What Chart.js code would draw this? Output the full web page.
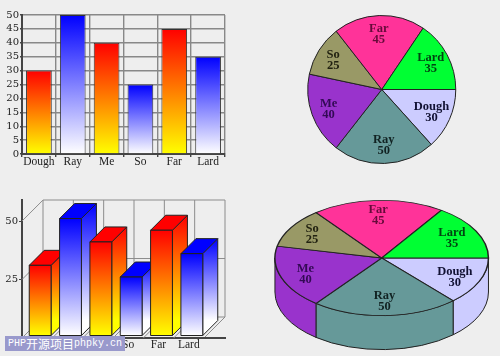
<!DOCTYPE html>
<html>
<head>
<meta charset="utf-8">
<script src="https://cdn.jsdelivr.net/npm/chart.js@4/dist/chart.umd.js"></script>
<style>
    html, body { margin: 0; padding: 0; background: #eeeeee; width: 500px; height: 356px; overflow: hidden; }
    canvas { position: absolute; }
    #mark {
        position: absolute; left: 5px; top: 336px; width: 120px; height: 15px;
        display: flex; align-items: center;
        background: #9999cc; color: #fff; font: 10px "Liberation Mono", monospace;
        padding-left: 3px; box-sizing: border-box; white-space: pre; overflow: hidden;
    }
    #mark span { font: 12px/15px "Noto Sans CJK SC", sans-serif; }
</style>
</head>
<body>
<canvas id="bars" width="250" height="178" style="left:0;top:0"></canvas>
<canvas id="pie" width="250" height="178" style="left:250px;top:0"></canvas>
<canvas id="bars3d" width="250" height="178" style="left:0;top:178px"></canvas>
<canvas id="pie3d" width="250" height="178" style="left:250px;top:178px"></canvas>
<div id="mark">PHP<span>开源项目</span>phpky.cn</div>
<script>
const categories = ['Dough', 'Ray', 'Me', 'So', 'Far', 'Lard'];
const values = [30, 50, 40, 25, 45, 35];
const sliceColors = ['#ccccff', '#669999', '#9933cc', '#999966', '#ff3399', '#00ff33'];
const labelColors = ['#111133', '#112222', '#330a55', '#222211', '#660a3a', '#004411'];
const barStops = [['#ff0000', '#ffff00'], ['#0000ff', '#ffffff']];

const SERIF = '"Liberation Serif", serif';
const TICK_SERIF = '"DejaVu Serif", serif';

Chart.defaults.animation = false;
Chart.defaults.responsive = false;
Chart.defaults.plugins.legend.display = false;
Chart.defaults.plugins.tooltip.enabled = false;

function barGradient(ctx, i, top, bottom) {
    const g = ctx.createLinearGradient(0, top, 0, bottom);
    const stops = barStops[i % 2];
    g.addColorStop(0, stops[0]);
    g.addColorStop(1, stops[1]);
    return g;
}

// flat bars
new Chart(document.getElementById('bars'), {
    type: 'bar',
    data: {
        labels: categories,
        datasets: [{
            data: values,
            backgroundColor: (c) => {
                const y = c.chart.scales.y;
                if (!c.chart.chartArea || !y || c.raw === undefined) return '#000';
                const top = y.getPixelForValue(c.raw), bottom = y.getPixelForValue(0);
                if (!isFinite(top) || !isFinite(bottom)) return '#000';
                return barGradient(c.chart.ctx, c.dataIndex, top, bottom);
            },
            borderColor: '#333',
            borderWidth: 1,
            barPercentage: 0.76,
            categoryPercentage: 1
        }]
    },
    options: {
        layout: { padding: { top: 15, right: 25 } },
        scales: {
            x: {
                afterFit: (s) => { s.height = 24; },
                grid: { color: '#888', lineWidth: 1.4, tickColor: '#444', tickLength: 3 },
                border: { color: '#444', width: 2 },
                ticks: { autoSkip: false, color: '#222', padding: -2, maxRotation: 0, font: { family: SERIF, size: 11.5 } }
            },
            y: {
                min: 0, max: 50,
                afterFit: (s) => { s.width = 22; },
                grid: { color: '#888', lineWidth: 1.4, tickColor: '#444', tickLength: 2 },
                border: { color: '#444', width: 2 },
                ticks: { autoSkip: false, stepSize: 5, color: '#222', padding: 1, font: { family: TICK_SERIF, size: 10 } }
            }
        }
    }
});

// pie labels, two lines per slice, placed along the slice's mid angle
const sliceLabels = {
    id: 'sliceLabels',
    afterDatasetsDraw(chart, args, opts) {
        const ctx = chart.ctx;
        const arcs = chart.getDatasetMeta(0).data;
        ctx.save();
        ctx.textAlign = 'center';
        ctx.textBaseline = 'middle';
        ctx.font = 'bold 12.5px ' + SERIF;
        arcs.forEach((arc, i) => {
            const mid = (arc.startAngle + arc.endAngle) / 2;
            const r = arc.outerRadius * opts.at;
            const x = arc.x + Math.cos(mid) * r * (opts.sx || 1) + opts.dx[i];
            const y = arc.y + Math.sin(mid) * r + opts.dy[i];
            ctx.fillStyle = labelColors[i];
            ctx.fillText(categories[i], x, y - 5.5);
            ctx.fillText(String(values[i]), x, y + 5.5);
        });
        ctx.restore();
    }
};

new Chart(document.getElementById('pie'), {
    type: 'pie',
    data: {
        labels: categories,
        datasets: [{ data: values, backgroundColor: sliceColors, borderColor: '#222', borderWidth: 1 }]
    },
    options: {
        rotation: 90,
        layout: { padding: { left: 57, right: 43.5, top: 15, bottom: 14 } },
        plugins: {
            sliceLabels: { at: 0.75, dx: [-1, 0, -1, -1.5, -1, 0], dy: [0, 0, 1, 0, 0, -0.5] }
        }
    },
    plugins: [sliceLabels]
});

// 3d bars
const DEPTH = 21;
const BAR_DX = 3, BAR_DY = 2.5, BAR_SIDE = 15;

const bars3d = {
    id: 'bars3d',
    beforeDatasetsDraw(chart) {
        const ctx = chart.ctx, y = chart.scales.y, x = chart.scales.x;
        const front = y.getPixelForValue(0);
        const top = y.top;
        const left = x.left, pitch = x.width / categories.length;
        ctx.save();
        ctx.strokeStyle = '#8c8c8c';
        ctx.lineWidth = 1;
        ctx.beginPath();
        for (let i = 0; i <= categories.length; i++) {
            const bx = left + pitch * i + DEPTH;
            ctx.moveTo(bx, top);
            ctx.lineTo(bx, front - DEPTH);
            // floor
            ctx.moveTo(bx, front - DEPTH);
            ctx.lineTo(bx - DEPTH, front);
        }
        [0, 25, 59].forEach((v) => {
            const vy = y.getPixelForValue(v);
            ctx.moveTo(left + DEPTH, vy - (v === 59 ? 0 : DEPTH));
            ctx.lineTo(x.right + DEPTH, vy - (v === 59 ? 0 : DEPTH));
        });
        [25, 50].forEach((v) => {
            const vy = y.getPixelForValue(v);
            ctx.moveTo(left, vy);
            ctx.lineTo(left + DEPTH, vy - DEPTH);
        });
        ctx.stroke();
        ctx.restore();
    },
    beforeDatasetDraw(chart) {
        const ctx = chart.ctx;
        chart.getDatasetMeta(0).data.forEach((bar, i) => {
            const w = bar.width;
            const l = bar.x - w / 2 + BAR_DX, r = l + w;
            const t = bar.y - BAR_DY, b = bar.base - BAR_DY;
            ctx.save();
            ctx.strokeStyle = '#222';
            ctx.lineWidth = 1;
            // side
            ctx.beginPath();
            ctx.moveTo(r, t);
            ctx.lineTo(r + BAR_SIDE, t - BAR_SIDE);
            ctx.lineTo(r + BAR_SIDE, b - BAR_SIDE);
            ctx.lineTo(r, b);
            ctx.closePath();
            ctx.fillStyle = barGradient(ctx, i, t - BAR_SIDE, b - BAR_SIDE);
            ctx.fill();
            ctx.stroke();
            // top
            ctx.beginPath();
            ctx.moveTo(l, t);
            ctx.lineTo(l + BAR_SIDE, t - BAR_SIDE);
            ctx.lineTo(r + BAR_SIDE, t - BAR_SIDE);
            ctx.lineTo(r, t);
            ctx.closePath();
            ctx.fillStyle = barStops[i % 2][0];
            ctx.fill();
            ctx.stroke();
            // front
            ctx.beginPath();
            ctx.rect(l, t, w, b - t);
            ctx.fillStyle = barGradient(ctx, i, t, b);
            ctx.fill();
            ctx.stroke();
            ctx.restore();
        });
        return false;
    },
    afterDraw(chart) {
        // the floor edge runs on past the last category
        const ctx = chart.ctx, x = chart.scales.x;
        const front = chart.scales.y.getPixelForValue(0);
        ctx.save();
        ctx.strokeStyle = '#444';
        ctx.lineWidth = 2;
        ctx.beginPath();
        ctx.moveTo(x.right, front);
        ctx.lineTo(x.right + DEPTH + 1, front);
        ctx.stroke();
        ctx.restore();
    }
};

new Chart(document.getElementById('bars3d'), {
    type: 'bar',
    data: {
        labels: categories,
        datasets: [{ data: values, backgroundColor: '#000', barPercentage: 0.72, categoryPercentage: 1 }]
    },
    options: {
        layout: { padding: { top: 22, right: 46 } },
        scales: {
            x: {
                afterFit: (s) => { s.height = 18; },
                grid: { drawOnChartArea: false, drawTicks: false },
                border: { color: '#444', width: 2 },
                ticks: { autoSkip: false, color: '#222', padding: 0, maxRotation: 0, font: { family: SERIF, size: 11.5 } }
            },
            y: {
                min: 0, max: 59,
                afterFit: (s) => { s.width = 22; },
                afterBuildTicks: (s) => { s.ticks = s.ticks.filter((t) => t.value === 25 || t.value === 50); },
                grid: { drawOnChartArea: false, color: '#444', tickLength: 3 },
                border: { color: '#444', width: 2 },
                ticks: { autoSkip: false, stepSize: 25, color: '#222', padding: 1, font: { family: TICK_SERIF, size: 10 } }
            }
        }
    },
    plugins: [bars3d]
});

// 3d pie: the round chart is stretched and the rim drawn under it
const PIE_STRETCH = 107.5 / 58;
const PIE_THICK = 34;

const pieRim = {
    id: 'pieRim',
    beforeDatasetsDraw(chart) {
        const ctx = chart.ctx;
        const arcs = chart.getDatasetMeta(0).data;
        const cx = arcs[0].x, cy = arcs[0].y, r = arcs[0].outerRadius;
        arcs.forEach((arc, i) => {
            const a0 = Math.max(arc.startAngle, 0);
            const a1 = Math.min(arc.endAngle, Math.PI);
            if (a1 <= a0) return;
            ctx.save();
            ctx.translate(cx, cy);
            ctx.scale(PIE_STRETCH, 1);
            ctx.beginPath();
            ctx.arc(0, 0, r, a0, a1);
            ctx.arc(0, PIE_THICK, r, a1, a0, true);
            ctx.closePath();
            ctx.restore();
            ctx.fillStyle = sliceColors[i];
            ctx.strokeStyle = '#222';
            ctx.lineWidth = 1;
            ctx.fill();
            ctx.stroke();
        });
        ctx.save();
        ctx.translate(cx, cy);
        ctx.scale(PIE_STRETCH, 1);
        ctx.translate(-cx, -cy);
    },
    afterDatasetsDraw(chart) {
        chart.ctx.restore();
    }
};

new Chart(document.getElementById('pie3d'), {
    type: 'pie',
    data: {
        labels: categories,
        datasets: [{ data: values, backgroundColor: sliceColors, borderColor: '#222', borderWidth: 0.8 }]
    },
    options: {
        rotation: 90,
        layout: { padding: { left: 73.7, right: 60.3, top: 22, bottom: 40 } },
        plugins: {
            sliceLabels: { at: 0.75, sx: PIE_STRETCH, dx: [0, 0, -1, -1.7, -0.7, -0.5], dy: [1.4, 0, 1.6, -0.4, 0, 0.9] }
        }
    },
    plugins: [pieRim, sliceLabels]
});
</script>
</body>
</html>
